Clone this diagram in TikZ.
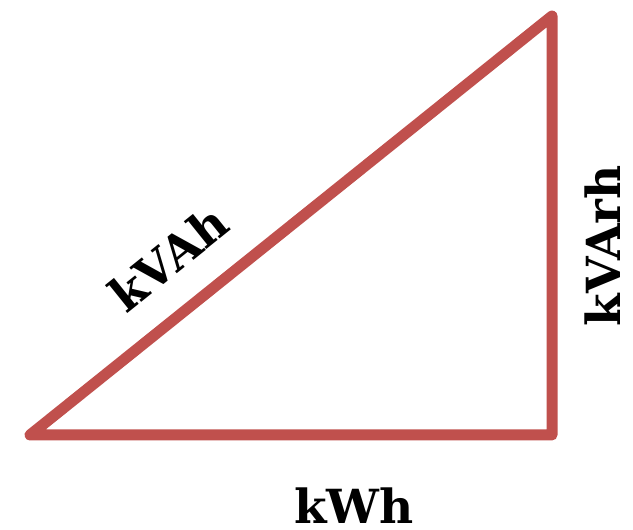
\documentclass[tikz,border=0pt]{standalone}
\usepackage{fontspec}
\setmainfont{DejaVu Serif}
\usepackage{xcolor}
\usetikzlibrary{positioning,calc}
\definecolor{trired}{HTML}{C0504D}
\tikzset{
  triside/.style={draw=trired, line width=11pt, line join=round, line cap=round},
  trilabel/.style={font=\fontsize{47}{47}\selectfont\bfseries, inner sep=0pt, text=black}
}

\begin{document}
\begin{tikzpicture}[x=1pt,y=1pt]
\useasboundingbox (0,0) rectangle (633,530);
\coordinate (base) at (30,95);
\coordinate (right) at (552,95);
\coordinate (top) at (552,514);
\draw[triside] (base) -- (right) -- (top) -- cycle;

\node[trilabel, rotate=38.75] (hyp) at (168,272) {kVAh};
\node[trilabel, rotate=90] (react) at (603,284) {kVArh};
\node[trilabel] (real) at (354,24) {kWh};
\end{tikzpicture}
\end{document}
